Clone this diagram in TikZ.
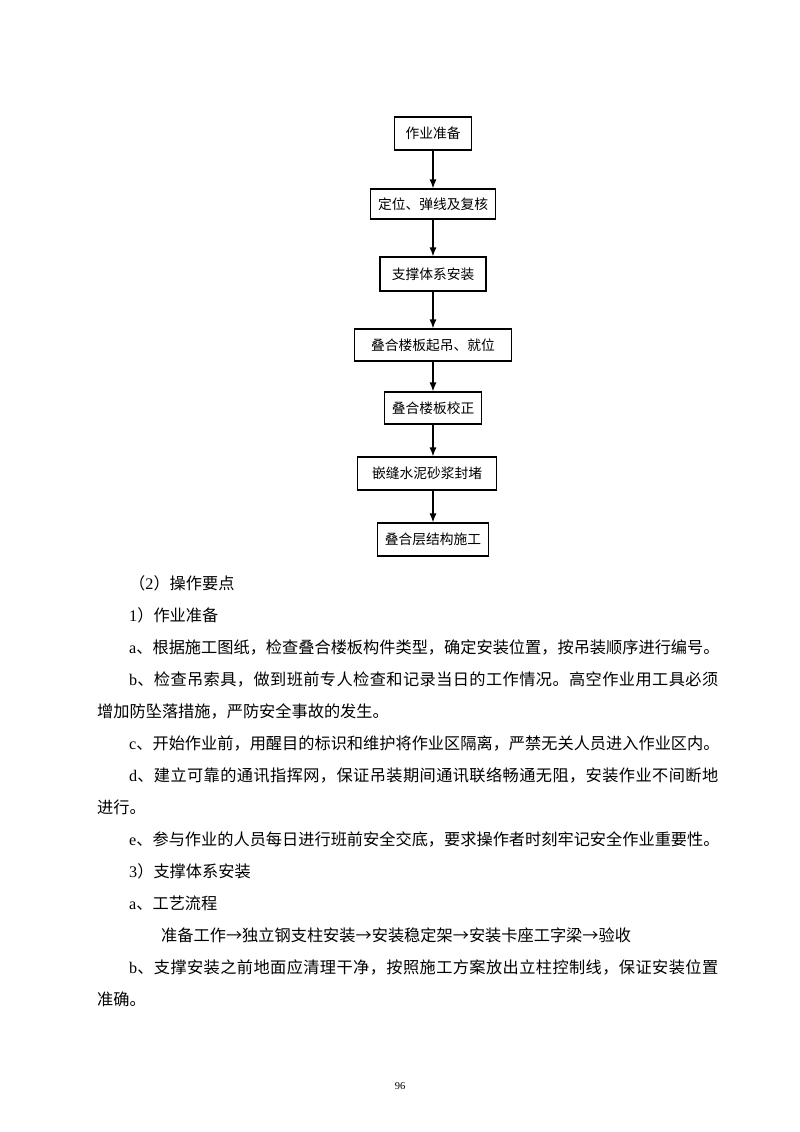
\documentclass[tikz,border=0pt]{standalone}
\usepackage{fontspec}
\setmainfont{Liberation Serif}
\newfontfamily\cjk{Noto Sans CJK SC}
\usetikzlibrary{arrows.meta}
\def\spreadchars#1{\ifx#1\relax\unskip\else#1\hfil\expandafter\spreadchars\fi}
\begin{document}
\begin{tikzpicture}[x=1pt,y=-1pt,>={Latex[length=9pt,width=7pt]},
	box/.style={draw,line width=1.2pt,inner sep=0pt,font=\cjk\fontsize{13.75pt}{16pt}\selectfont},
	body/.style={anchor=base west,inner sep=0pt,font=\cjk\fontsize{16.2pt}{20pt}\selectfont}]
			\useasboundingbox (0,0) rectangle (800,1132);
			% flow chart
			\node[box,minimum width=77pt,minimum height=33pt] (0) at (433,133.5) {作业准备};
			\node[box,minimum width=125pt,minimum height=30pt] (1) at (433,204) {定位、弹线及复核};
			\node[box,minimum width=106pt,minimum height=34pt] (2) at (433,274) {支撑体系安装};
			\node[box,minimum width=157pt,minimum height=32pt] (3) at (433,345) {叠合楼板起吊、就位};
			\node[box,minimum width=97pt,minimum height=32pt] (4) at (433,408) {叠合楼板校正};
			\node[box,minimum width=139pt,minimum height=33pt] (5) at (427,473.5) {嵌缝水泥砂浆封堵};
			\node[box,minimum width=111pt,minimum height=33pt] (6) at (433,539.5) {叠合层结构施工};
			\draw [->,line width=1.2pt] (0)--(1);
			\draw [->,line width=1.2pt] (1)--(2);
			\draw [->,line width=1.2pt] (2)--(3);
			\draw [->,line width=1.2pt] (3)--(4);
			\draw [->,line width=1.2pt] (4)--(4 |- 5.north);
			\draw [->,line width=1.2pt] (5.south -| 6)--(6);
			% text
			\node[body] (p0) at (129,589) {（\textrm{2}）操作要点};
			\node[body] (p1) at (129,621) {\textrm{1}）作业准备};
			\node[body] (p2) at (129,653) {\hbox to 589pt{\textrm{a}\spreadchars 、根据施工图纸，检查叠合楼板构件类型，确定安装位置，按吊装顺序进行编号。\relax}};
			\node[body] (p3) at (129,685) {\hbox to 589pt{\textrm{b}\spreadchars 、检查吊索具，做到班前专人检查和记录当日的工作情况。高空作业用工具必须\relax}};
			\node[body] (p4) at (97,717) {增加防坠落措施，严防安全事故的发生。};
			\node[body] (p5) at (129,749) {\hbox to 589pt{\textrm{c}\spreadchars 、开始作业前，用醒目的标识和维护将作业区隔离，严禁无关人员进入作业区内。\relax}};
			\node[body] (p6) at (129,781) {\hbox to 589pt{\textrm{d}\spreadchars 、建立可靠的通讯指挥网，保证吊装期间通讯联络畅通无阻，安装作业不间断地\relax}};
			\node[body] (p7) at (97,813) {进行。};
			\node[body] (p8) at (129,845) {\hbox to 589pt{\textrm{e}\spreadchars 、参与作业的人员每日进行班前安全交底，要求操作者时刻牢记安全作业重要性。\relax}};
			\node[body] (p9) at (129,877) {\textrm{3}）支撑体系安装};
			\node[body] (p10) at (129,909) {\textrm{a}、工艺流程};
			\node[body] (p11) at (161,941) {准备工作→独立钢支柱安装→安装稳定架→安装卡座工字梁→验收};
			\node[body] (p12) at (129,973) {\hbox to 589pt{\textrm{b}\spreadchars 、支撑安装之前地面应清理干净，按照施工方案放出立柱控制线，保证安装位置\relax}};
			\node[body] (p13) at (97,1005) {准确。};
			\node[inner sep=0pt,font=\fontsize{10.5pt}{12pt}\selectfont] (pg) at (400,1086) {96};
			\end{tikzpicture}
\end{document}
